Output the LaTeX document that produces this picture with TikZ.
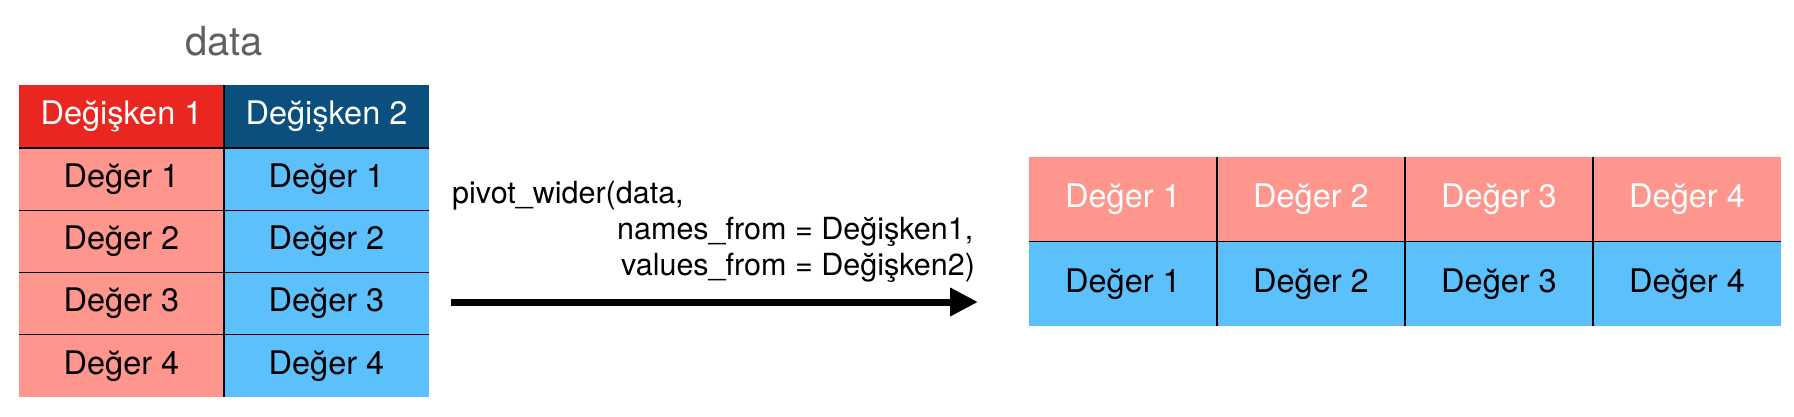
\documentclass[tikz,border=0pt]{standalone}
\usepackage{fontspec}
\setmainfont{TeX Gyre Heros}
\usetikzlibrary{arrows.meta}
\definecolor{hdrred}{RGB}{233,38,32}
\definecolor{hdrblue}{RGB}{11,79,126}
\definecolor{lightred}{RGB}{254,150,142}
\definecolor{lightblue}{RGB}{91,192,251}
\definecolor{titlegray}{RGB}{96,96,96}
\begin{document}
\begin{tikzpicture}[x=1pt,y=-1pt,
  cell/.style={inner sep=0pt, outer sep=0pt, font=\fontsize{32.5}{38}\selectfont},
  lcell/.style={cell, minimum width=205pt, minimum height=62.25pt},
  rcell/.style={cell, minimum width=188pt, minimum height=84.5pt},
  grid/.style={line width=1.4pt, black},
  codetxt/.style={anchor=base west, inner sep=0pt, font=\fontsize{30.5}{36}\selectfont}]
\useasboundingbox (0,0) rectangle (1794,416);
% title
\node[cell, text=titlegray, font=\fontsize{40}{46}\selectfont, anchor=base] (title) at (224,55) {data};
% left table
\node[lcell, fill=hdrred, text=white, minimum height=63pt] (h1) at (121.5,116.5) {Değişken 1};
\node[lcell, fill=hdrblue, text=white, minimum height=63pt] (h2) at (326.5,116.5) {Değişken 2};
\foreach \i/\y in {1/179.125,2/241.375,3/303.625,4/365.875}{
  \node[lcell, fill=lightred] (a\i) at (121.5,\y) {Değer \i};
  \node[lcell, fill=lightblue] (b\i) at (326.5,\y) {Değer \i};
}
\draw[grid] (h1.north east) -- (a4.south east);
\foreach \i in {1,2,3,4}{
  \draw[grid] (a\i.north west) -- (b\i.north east);
}
% code text
\node[codetxt] (c1) at (452,203) {pivot\_wider(data,};
\node[codetxt] (c2) at (617,239) {names\_from = Değişken1,};
\node[codetxt] (c3) at (621,275) {values\_from = Değişken2)};
% arrow
\coordinate (arrS) at (451,302);
\coordinate (arrE) at (978,302);
\draw[line width=7pt, -{Triangle[length=28pt,width=27pt]}] (arrS) -- (arrE);
% right table
\foreach \i/\x in {1/1123,2/1311,3/1499,4/1687}{
  \node[rcell, fill=lightred, text=white] (r\i) at (\x,199.25) {Değer \i};
  \node[rcell, fill=lightblue] (s\i) at (\x,283.75) {Değer \i};
}
\draw[grid] (s1.north west) -- (s4.north east);
\foreach \i in {1,2,3}{
  \draw[grid] (r\i.north east) -- (s\i.south east);
}
\end{tikzpicture}
\end{document}
